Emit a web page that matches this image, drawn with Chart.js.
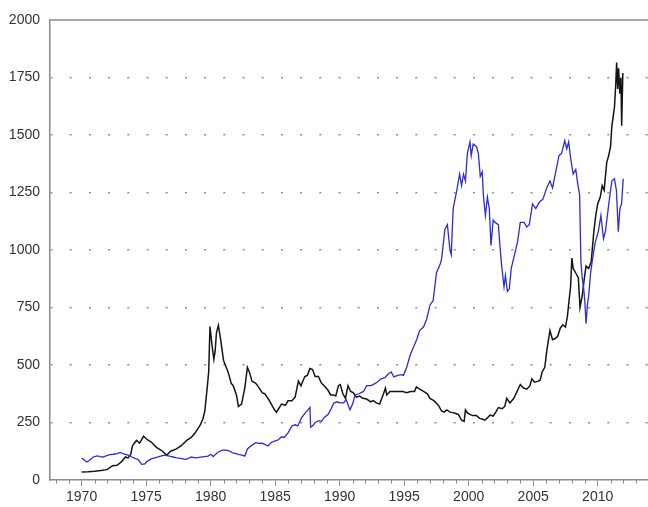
<!DOCTYPE html>
<html>
<head>
<meta charset="utf-8">
<script src="https://cdn.jsdelivr.net/npm/chart.js@4"></script>
<style>
  html, body { margin:0; padding:0; background:#fff; }
  #wrap { width:648px; height:507px; }
</style>
</head>
<body>
<div id="wrap"><canvas id="c" width="648" height="507"></canvas></div>
<script>
// ─── Data ────────────────────────────────────────────────────────────────────

// black line
const goldYears = [
  1970.0,1970.5,1971.0,1971.5,1971.75,1972.0,1972.4,1972.75,1973.1,1973.4,1973.6,1973.8,1973.95,
  1974.25,1974.5,1974.8,1975.1,1975.4,1975.8,1976.2,1976.6,1976.9,1977.35,1977.7,1978.15,1978.5,1978.8,
  1979.2,1979.4,1979.55,1979.75,1979.85,1979.95,1980.1,1980.25,1980.35,1980.45,1980.6,1980.75,1980.9,
  1981.0,1981.35,1981.6,1981.75,1982.0,1982.15,1982.4,1982.65,1982.85,1983.0,1983.2,1983.5,1983.7,
  1984.0,1984.2,1984.5,1984.7,1984.95,1985.1,1985.5,1985.8,1986.0,1986.3,1986.55,1986.8,1987.0,1987.3,
  1987.5,1987.7,1987.9,1988.1,1988.35,1988.6,1988.8,1989.1,1989.3,1989.5,1989.7,1989.9,1990.05,1990.25,
  1990.45,1990.65,1990.85,1991.05,1991.3,1991.55,1991.8,1992.1,1992.4,1992.6,1992.85,1993.1,1993.4,
  1993.55,1993.65,1993.9,1994.2,1994.4,1994.6,1994.9,1995.2,1995.5,1995.8,1995.95,1996.2,1996.5,1996.8,
  1997.0,1997.3,1997.65,1997.9,1998.1,1998.3,1998.55,1998.75,1998.95,1999.2,1999.45,1999.65,1999.75,
  1999.9,2000.1,2000.3,2000.6,2000.85,2001.05,2001.25,2001.45,2001.65,2001.9,2002.1,2002.3,2002.6,
  2002.8,2002.95,2003.2,2003.5,2003.75,2004.0,2004.25,2004.5,2004.75,2004.9,2005.1,2005.4,2005.55,
  2005.7,2005.9,2006.05,2006.3,2006.5,2006.7,2006.9,2007.1,2007.3,2007.5,2007.65,2007.8,2007.9,2008.0,
  2008.1,2008.3,2008.5,2008.63,2008.8,2008.95,2009.1,2009.3,2009.5,2009.7,2009.85,2010.0,2010.2,
  2010.35,2010.5,2010.7,2010.85,2011.0,2011.1,2011.2,2011.3,2011.4,2011.47,2011.55,2011.62,2011.72,
  2011.8,2011.86,2011.95
];
const goldValues = [
  35,36,38,41,43,46,62,64,80,100,96,110,150,
  172,160,190,175,165,142,128,108,125,135,148,172,185,205,
  240,265,300,410,470,667,590,525,560,640,672,620,560,
  520,470,420,410,370,320,330,400,490,470,430,420,405,
  380,375,350,330,305,295,330,325,345,345,360,430,410,450,
  455,485,480,450,450,420,410,390,370,370,365,410,415,375,
  355,410,385,380,360,365,355,352,340,345,335,330,375,
  400,370,385,385,385,385,385,380,385,385,405,395,385,375,
  355,345,325,300,295,305,295,293,290,285,260,255,305,
  292,285,280,280,268,265,260,270,282,278,295,315,310,
  320,355,335,355,385,415,400,395,410,440,425,430,435,
  470,490,560,650,610,615,625,660,675,665,710,790,840,965,
  920,900,880,750,800,870,930,920,950,1080,1150,1200,1230,
  1280,1260,1380,1410,1450,1540,1580,1620,1720,1815,1700,1790,1680,
  1750,1540,1770
];

// blue line
const idxYears = [
  1970.0,1970.2,1970.4,1970.6,1970.9,1971.2,1971.45,1971.65,1971.9,1972.2,1972.45,1972.75,1973.0,
  1973.2,1973.6,1973.9,1974.1,1974.4,1974.65,1974.9,1975.05,1975.4,1975.8,1976.2,1976.45,1976.8,
  1977.1,1977.35,1977.7,1978.0,1978.2,1978.5,1978.8,1979.1,1979.5,1979.8,1980.0,1980.2,1980.3,1980.6,
  1980.9,1981.1,1981.4,1981.7,1981.9,1982.2,1982.45,1982.65,1982.85,1983.05,1983.3,1983.5,1983.7,
  1984.0,1984.2,1984.45,1984.7,1985.0,1985.25,1985.5,1985.7,1986.0,1986.3,1986.55,1986.75,1987.05,
  1987.3,1987.55,1987.7,1987.75,1987.9,1988.1,1988.4,1988.6,1988.8,1989.1,1989.3,1989.55,1989.8,
  1990.0,1990.3,1990.5,1990.8,1991.0,1991.2,1991.5,1991.85,1992.1,1992.4,1992.6,1992.9,1993.2,1993.5,
  1993.75,1994.0,1994.2,1994.5,1994.8,1994.95,1995.2,1995.45,1995.7,1995.97,1996.2,1996.5,1996.75,
  1997.0,1997.25,1997.5,1997.8,1997.9,1998.16,1998.35,1998.55,1998.65,1998.8,1999.05,1999.3,1999.45,
  1999.6,1999.75,1999.9,2000.1,2000.2,2000.35,2000.6,2000.75,2000.9,2001.05,2001.15,2001.3,2001.45,
  2001.6,2001.73,2001.9,2002.05,2002.3,2002.45,2002.56,2002.74,2002.85,2003.0,2003.15,2003.3,2003.6,
  2003.8,2004.0,2004.3,2004.5,2004.7,2004.95,2005.2,2005.5,2005.75,2006.05,2006.3,2006.5,2006.75,
  2007.0,2007.2,2007.45,2007.6,2007.75,2007.9,2008.1,2008.3,2008.45,2008.6,2008.7,2008.8,2008.9,
  2009.0,2009.1,2009.2,2009.3,2009.45,2009.6,2009.8,2010.05,2010.25,2010.45,2010.6,2010.75,2010.95,
  2011.1,2011.3,2011.45,2011.6,2011.72,2011.85,2011.98
];
const idxValues = [
  95,88,78,85,100,105,102,100,105,110,112,115,120,
  115,108,100,95,88,68,70,80,92,98,105,108,104,
  100,96,94,90,92,100,96,98,102,104,112,102,108,122,
  130,130,128,118,116,110,108,104,135,145,155,162,159,
  160,155,148,163,170,175,188,185,205,235,240,235,270,
  290,305,315,230,235,250,258,255,272,285,305,335,340,
  335,335,350,305,330,370,375,385,410,410,415,425,440,445,
  460,470,448,455,458,455,490,540,575,610,650,665,700,
  760,780,900,940,960,1090,1110,1000,980,1180,1250,1330,1280,
  1330,1300,1420,1470,1410,1460,1450,1420,1320,1340,1230,1150,1230,
  1180,1020,1130,1120,1110,1000,930,840,890,820,830,920,990,
  1040,1120,1120,1100,1110,1200,1180,1210,1220,1270,1300,1270,1340,
  1410,1420,1475,1440,1470,1400,1330,1350,1290,1240,950,880,840,
  780,680,760,800,900,960,1030,1080,1150,1050,1080,1150,1240,
  1300,1310,1260,1080,1180,1200,1310
];

// axes
const yTicks = [0, 250, 500, 750, 1000, 1250, 1500, 1750, 2000];
const xTicks = [1970, 1975, 1980, 1985, 1990, 1995, 2000, 2005, 2010];
const xMinorYears = [
  1968,1969,1971,1972,1973,1974,1976,1977,1978,1979,1981,1982,1983,1984,1986,1987,1988,1989,
  1991,1992,1993,1994,1996,1997,1998,1999,2001,2002,2003,2004,2006,2007,2008,2009,2011,2012,2013
];

// ─── Helpers ──────────────────────────────────────────────────────────────────

const pts = (xs, ys) => xs.map((x, i) => ({ x, y: ys[i] }));
const AXIS_COLOR = '#8a8a8a';
const TICK_FONT  = { family: "'Liberation Sans', Arial, sans-serif", size: 14 };

// minor year ticks + top frame line
const framePlugin = {
  id: 'frame',
  afterDraw(chart) {
    const { ctx, chartArea: a, scales: { x } } = chart;
    ctx.save();
    ctx.strokeStyle = AXIS_COLOR;
    ctx.lineWidth = 1.5;
    ctx.beginPath();
    ctx.moveTo(a.left, a.top);
    ctx.lineTo(a.right, a.top);
    ctx.stroke();
    ctx.lineWidth = 1;
    ctx.beginPath();
    xMinorYears.forEach(yr => {
      const px = Math.round(x.getPixelForValue(yr)) + 0.5;
      ctx.moveTo(px, a.bottom);
      ctx.lineTo(px, a.bottom + 3.5);
    });
    ctx.stroke();
    ctx.restore();
  }
};

// ─── Chart ────────────────────────────────────────────────────────────────────

new Chart(document.getElementById('c'), {
  type: 'line',
  data: {
    datasets: [
      { label: 'blue', data: pts(idxYears, idxValues), borderColor: '#2c2ccf', borderWidth: 1.3,
        pointRadius: 0, tension: 0, order: 1 },
      { label: 'black', data: pts(goldYears, goldValues), borderColor: '#151515', borderWidth: 1.5,
        pointRadius: 0, tension: 0, order: 2 },
    ]
  },
  options: {
    responsive: false,
    animation: false,
    layout: { padding: { top: 20, right: 0, left: 0, bottom: 0 } },
    plugins: { legend: { display: false }, tooltip: { enabled: false } },
    scales: {
      x: {
        type: 'linear',
        min: 1967.55, max: 2013.9,
        afterBuildTicks: s => { s.ticks = xTicks.map(v => ({ value: v })); },
        afterFit: s => { s.height = 27; },
        ticks: { autoSkip: false, maxRotation: 0, padding: 3, color: '#333', font: TICK_FONT,
                 callback: v => String(v) },
        grid: { drawOnChartArea: false, drawTicks: true, tickLength: 6, tickColor: AXIS_COLOR, tickWidth: 1 },
        border: { color: AXIS_COLOR, width: 1.5 }
      },
      y: {
        min: 0, max: 2000,
        afterBuildTicks: s => { s.ticks = yTicks.map(v => ({ value: v })); },
        afterFit: s => { s.width = 50; },
        ticks: { padding: 10, color: '#333', font: TICK_FONT, callback: v => String(v) },
        grid: {
          drawTicks: false,
          lineWidth: 1.6,
          color: c => (c.tick && (c.tick.value === 0 || c.tick.value === 2000)) ? 'rgba(0,0,0,0)' : '#8f8f8f'
        },
        border: { color: AXIS_COLOR, width: 1.5, dash: [2, 17.2] }
      }
    }
  },
  plugins: [framePlugin]
});
</script>
</body>
</html>
